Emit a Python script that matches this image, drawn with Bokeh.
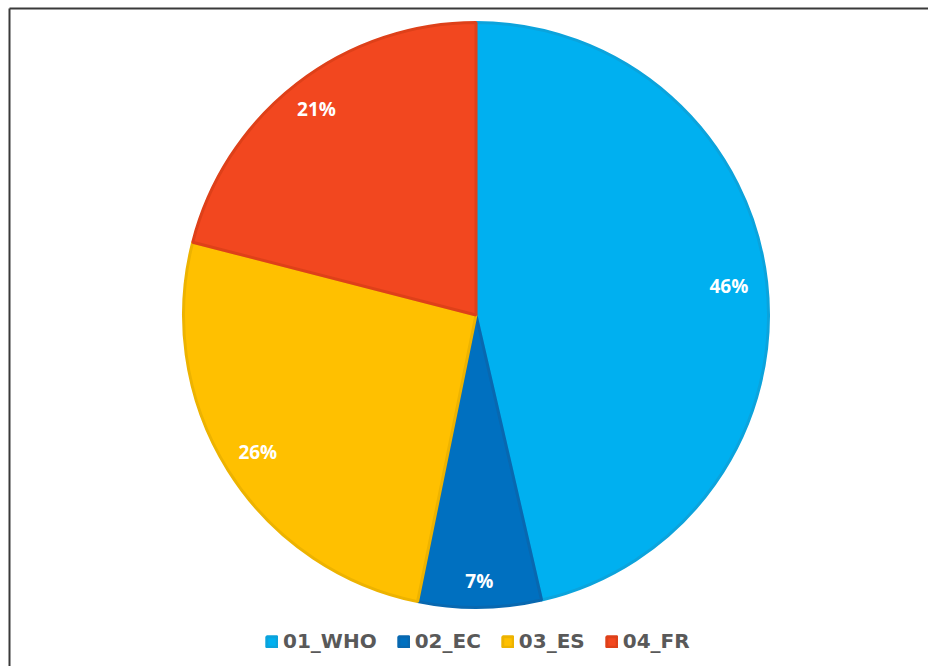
import math
from bokeh.plotting import figure
from bokeh.models import ColumnDataSource, Range1d, Legend, LegendItem
from bokeh.core.properties import value
from bokeh.embed import file_html
from bokeh.resources import INLINE

categories = ["01_WHO", "02_EC", "03_ES", "04_FR"]
shares = [46.4, 6.8, 25.8, 21.0]
pct_labels = ["46%", "7%", "26%", "21%"]
colors = ["#00B0F0", "#0070C0", "#FFC000", "#F2471F"]
edge_colors = ["#0BA3DC", "#0868B0", "#EDB300", "#DE4019"]
label_radius_frac = [0.87, 0.91, 0.88, 0.89]

W, H = 928, 666
cx, cy, R = 475.5, H - 314.5, 292.5

total = sum(shares)
starts, ends, lx, ly = [], [], [], []
cum = 0.0
for i, s in enumerate(shares):
    a0 = math.pi / 2 - 2 * math.pi * cum / total
    cum += s
    a1 = math.pi / 2 - 2 * math.pi * cum / total
    starts.append(a0)
    ends.append(a1)
    mid = (a0 + a1) / 2
    lx.append(cx + R * label_radius_frac[i] * math.cos(mid))
    ly.append(cy + R * label_radius_frac[i] * math.sin(mid))

src = ColumnDataSource(dict(cat=categories, start=starts, end=ends,
                            color=colors, edge=edge_colors,
                            x=[cx] * 4, y=[cy] * 4))
lab = ColumnDataSource(dict(x=lx, y=ly, text=pct_labels))

p = figure(width=W, height=H, x_range=Range1d(0, W), y_range=Range1d(0, H),
           output_backend="svg", toolbar_location=None, min_border=0)
p.axis.visible = False
p.grid.visible = False
p.outline_line_color = None
p.background_fill_color = "white"

# chart-area border (only top and left visible in reference crop)
p.segment(x0=[9, 9], y0=[H - 8, H - 8], x1=[W + 5, 9], y1=[H - 8, -5],
          line_color="#3a3a3a", line_width=2)

r = p.wedge(x="x", y="y", radius=R, start_angle="start", end_angle="end",
            direction="clock", fill_color="color", line_color="edge",
            line_width=3, source=src)

p.text(x="x", y="y", text="text", source=lab, text_color="white",
       text_font=value("Open Sans"), text_font_style="bold",
       text_font_size="19px", text_align="center", text_baseline="middle")

items = [LegendItem(label=c, renderers=[r], index=i) for i, c in enumerate(categories)]
legend = Legend(items=items, orientation="horizontal", location=(265, 13),
                label_text_font="DejaVu Sans", label_text_font_style="bold",
                label_text_font_size="20px", label_text_color="#595959",
                glyph_width=13, glyph_height=13, label_standoff=5, spacing=20,
                padding=0, margin=0, border_line_color=None,
                background_fill_alpha=0)
p.add_layout(legend, "center")

open("out.html", "w").write(file_html(p, INLINE))
